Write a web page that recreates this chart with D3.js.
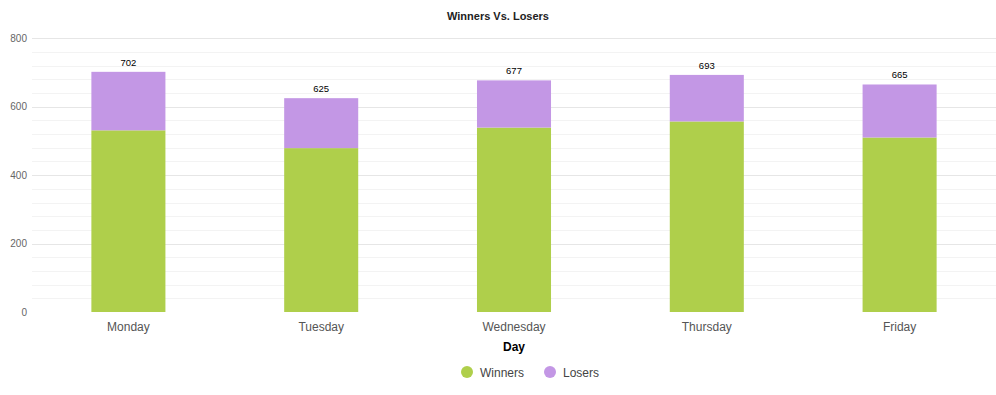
<!DOCTYPE html>
<html><head><meta charset="utf-8">
<script src="https://cdn.jsdelivr.net/npm/d3@7"></script>
<style>
body{margin:0;background:#fff;font-family:"Liberation Sans",Arial,sans-serif;}
</style></head>
<body><svg id="c" width="996" height="395"></svg>
<script>
const days = ["Monday","Tuesday","Wednesday","Thursday","Friday"];
const winners = [531,479,539,557,510];
const losers = [171,146,138,136,155];
const totals = [702,625,677,693,665];
const yTicks = [0,200,400,600,800];
const seriesNames = ["Winners","Losers"];
const colors = ["#afcf4b","#c397e5"];

const svg = d3.select("#c");
const x = d3.scaleBand().domain(days).range([32,996]).paddingInner(0.616).paddingOuter(0.308);
const y = d3.scaleLinear().domain([0,800]).range([312,38.3]);

// minor grid
svg.append("g").selectAll("line").data(d3.range(40,800,40).filter(v=>v%200!==0)).join("line")
  .attr("x1",32).attr("x2",996).attr("y1",d=>Math.round(y(d))+0.5).attr("y2",d=>Math.round(y(d))+0.5)
  .attr("stroke","#f3f3f3").attr("stroke-width",1);
// major grid
svg.append("g").selectAll("line").data(yTicks.filter(v=>v>0)).join("line")
  .attr("x1",32).attr("x2",996).attr("y1",d=>Math.round(y(d))+0.5).attr("y2",d=>Math.round(y(d))+0.5)
  .attr("stroke","#e6e6e6").attr("stroke-width",1);

// y axis labels
const ya = svg.append("g").attr("transform","translate(27,0)").call(d3.axisLeft(y).tickValues(yTicks).tickSize(0).tickPadding(0));
ya.select(".domain").remove();
ya.selectAll("text").attr("font-size",10).attr("fill","#666").attr("font-family","Liberation Sans, Arial, sans-serif");

// stacked bars
const rows = days.map((d,i)=>({day:d,Winners:winners[i],Losers:losers[i]}));
const stack = d3.stack().keys(seriesNames)(rows);
svg.append("g").selectAll("g").data(stack).join("g").attr("fill",(d,i)=>colors[i])
  .selectAll("rect").data(d=>d).join("rect")
  .attr("x",d=>x(d.data.day)).attr("width",x.bandwidth())
  .attr("y",d=>y(d[1])).attr("height",d=>y(d[0])-y(d[1]));

// total labels
svg.append("g").selectAll("text").data(days).join("text")
  .attr("x",d=>x(d)+x.bandwidth()/2).attr("y",(d,i)=>y(totals[i])-6)
  .attr("text-anchor","middle").attr("font-size",9.5).attr("fill","#000").text((d,i)=>totals[i]);

// x axis labels
const xa = svg.append("g").attr("transform","translate(0,322)").call(d3.axisBottom(x).tickSize(0).tickPadding(0));
xa.select(".domain").remove();
xa.selectAll("text").attr("font-size",12).attr("fill","#555").attr("dy","0.71em").attr("font-family","Liberation Sans, Arial, sans-serif");

// axis title
svg.append("text").attr("x",514).attr("y",351).attr("text-anchor","middle")
  .attr("font-size",12).attr("font-weight","bold").attr("fill","#000").text("Day");

// title
svg.append("text").attr("x",498).attr("y",20).attr("text-anchor","middle")
  .attr("font-size",11).attr("font-weight","bold").attr("fill","#222").text("Winners Vs. Losers");

// legend
const legX = [467,550];
const lg = svg.append("g").selectAll("g").data(seriesNames).join("g")
  .attr("transform",(d,i)=>`translate(${legX[i]},372)`);
lg.append("circle").attr("r",6).attr("fill",(d,i)=>colors[i]);
lg.append("text").attr("x",13).attr("y",4.5).attr("font-size",12).attr("fill","#444").text(d=>d);
</script></body></html>
